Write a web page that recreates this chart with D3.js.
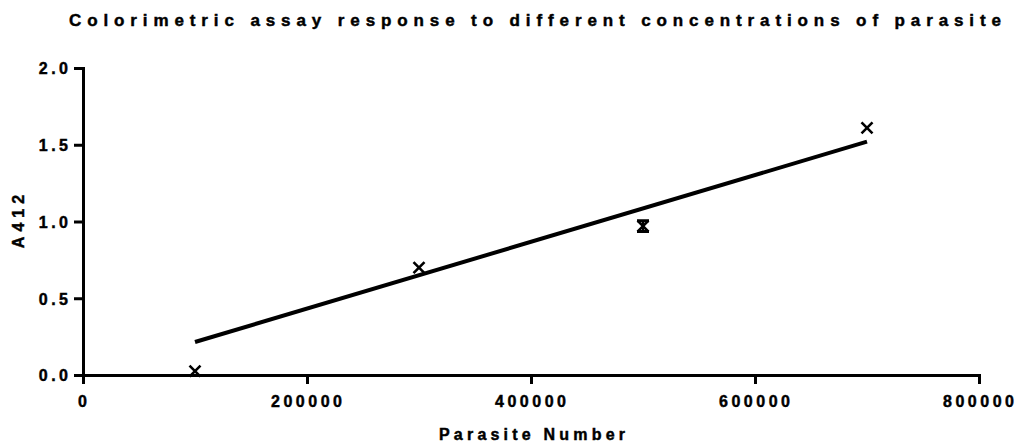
<!DOCTYPE html>
<html>
<head>
<meta charset="utf-8">
<script src="https://cdn.jsdelivr.net/npm/d3@7"></script>
<style>
  html, body { margin: 0; padding: 0; background: #fff; }
  svg text { font-family: "Liberation Sans", Arial, sans-serif; font-weight: bold; fill: #000; stroke: #000; stroke-width: 0.45px; }
</style>
</head>
<body>
<svg id="chart" width="1016" height="443"></svg>
<script>
// Parasite concentrations and mean absorbance at 412 nm
const parasiteNumber = [100000, 300000, 500000, 700000];
const a412Mean = [0.025, 0.70, 0.97, 1.61];
const a412SD = [0, 0, 0.035, 0];

// Linear fit drawn across the measured range
const fitX = [100000, 700000];
const fitY = [0.215, 1.52];

// Axis ticks
const xTicks = [0, 200000, 400000, 600000, 800000];
const yTicks = [0.0, 0.5, 1.0, 1.5, 2.0];

const svg = d3.select("#chart");

const x = d3.scaleLinear().domain([0, 800000]).range([83, 979]);
const y = d3.scaleLinear().domain([0, 2]).range([375, 68]);

const spacing = 3.5;

// Title
svg.append("text")
  .attr("x", 535).attr("y", 26)
  .attr("text-anchor", "middle")
  .attr("font-size", 17)
  .attr("textLength", 932)
  .attr("lengthAdjust", "spacing")
  .text("Colorimetric assay response to different concentrations of parasite");

// Axes
const xAxis = svg.append("g")
  .attr("transform", `translate(0,${y(0)})`)
  .call(d3.axisBottom(x).tickValues(xTicks).tickFormat(d3.format("d"))
    .tickSize(9).tickSizeOuter(0).tickPadding(12));

const yAxis = svg.append("g")
  .attr("transform", `translate(${x(0)},0)`)
  .call(d3.axisLeft(y).tickValues(yTicks).tickFormat(d3.format(".1f"))
    .tickSize(9).tickSizeOuter(0).tickPadding(6));

[xAxis, yAxis].forEach(g => {
  g.select(".domain").attr("stroke", "#000").attr("stroke-width", 3).attr("stroke-linecap", "square");
  g.selectAll(".tick line").attr("stroke", "#000").attr("stroke-width", 3);
  g.selectAll(".tick text")
    .attr("font-family", null)
    .attr("font-size", 16)
    .style("letter-spacing", spacing + "px");
});
xAxis.selectAll(".tick text").attr("dx", (spacing / 2 - 1) + "px");
yAxis.selectAll(".tick text").attr("dx", spacing + "px").attr("dy", "0.36em");

// Axis titles
svg.append("text")
  .attr("transform", `translate(24,${(y(0) + y(2)) / 2}) rotate(-90)`)
  .attr("text-anchor", "middle")
  .attr("font-size", 16)
  .style("letter-spacing", "5px")
  .attr("dx", "2.5px")
  .text("A412");

svg.append("text")
  .attr("x", 532)
  .attr("y", 440)
  .attr("text-anchor", "middle")
  .attr("font-size", 16)
  .style("letter-spacing", "4.2px")
  .attr("dx", "2.1px")
  .text("Parasite Number");

// Fit line
svg.append("path")
  .datum(fitX.map((d, i) => [d, fitY[i]]))
  .attr("fill", "none")
  .attr("stroke", "#000")
  .attr("stroke-width", 4)
  .attr("d", d3.line().x(d => x(d[0])).y(d => y(d[1])));

// Error bars
const cap = 6;
const err = svg.append("g").attr("stroke", "#000").attr("stroke-width", 2.5);
parasiteNumber.forEach((d, i) => {
  if (a412SD[i] <= 0) return;
  const cx = x(d), top = y(a412Mean[i] + a412SD[i]), bot = y(a412Mean[i] - a412SD[i]);
  err.append("line").attr("x1", cx).attr("x2", cx).attr("y1", top).attr("y2", bot);
  err.append("line").attr("x1", cx - cap).attr("x2", cx + cap).attr("y1", top).attr("y2", top).attr("stroke-width", 3);
  err.append("line").attr("x1", cx - cap).attr("x2", cx + cap).attr("y1", bot).attr("y2", bot).attr("stroke-width", 3);
});

// Cross markers
const m = 5.5;
svg.append("g").selectAll("path")
  .data(parasiteNumber.map((d, i) => [d, a412Mean[i]]))
  .join("path")
  .attr("fill", "none")
  .attr("stroke", "#000")
  .attr("stroke-width", 2.6)
  .attr("d", d => {
    const cx = x(d[0]), cy = y(d[1]);
    return `M${cx - m},${cy - m}L${cx + m},${cy + m}M${cx + m},${cy - m}L${cx - m},${cy + m}`;
  });
</script>
</body>
</html>
